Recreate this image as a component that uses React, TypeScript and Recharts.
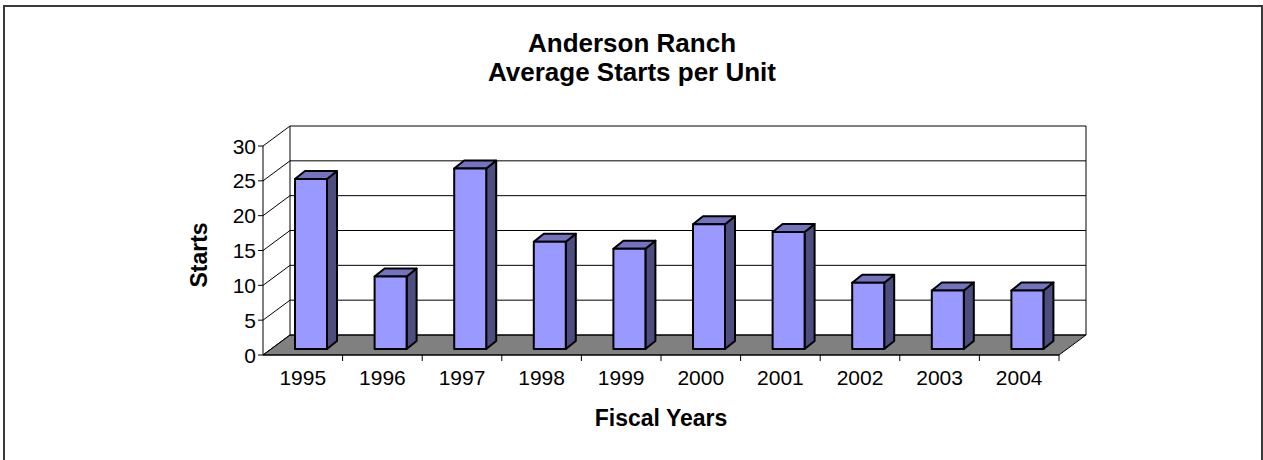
import React from 'react';
import { BarChart, Bar, XAxis, YAxis, CartesianGrid } from 'recharts';

const years = ['1995', '1996', '1997', '1998', '1999', '2000', '2001', '2002', '2003', '2004'];
const starts = [24.4, 10.4, 25.9, 15.4, 14.4, 17.9, 16.8, 9.5, 8.4, 8.4];
const yTicks = [0, 5, 10, 15, 20, 25, 30];

const data = years.map((year, i) => ({ year, starts: starts[i] }));

// layout of the front plane of the 3d box
const W = 1263;
const H = 460;
const PLOT_LEFT = 263;
const PLOT_RIGHT = 1059;
const PLOT_TOP = 146;
const PLOT_BOTTOM = 355;
const YAXIS_W = 60;
const XAXIS_H = 30;
const BAND = (PLOT_RIGHT - PLOT_LEFT) / years.length;

// depth of the box (back wall offset) and of the bars
const DX = 27;
const DY = 20;
const BAR_OFF_X = 8;
const BAR_OFF_Y = 6;
const BAR_DX = 10;
const BAR_DY = 8;

const FONT = '"Liberation Sans", Arial, sans-serif';

// back wall, floor and the slanted lines, drawn per grid line (under the bars)
function WallLine(props: any) {
    const { y1 } = props;
    const y = y1;
    const bx = PLOT_LEFT + DX;
    const by = y - DY;
    const isFloor = Math.abs(y - PLOT_BOTTOM) < 1;
    const isTop = Math.abs(y - PLOT_TOP) < 1;
    return (
        <g>
            {isFloor && (
                <polygon
                    points={`${PLOT_LEFT},${y} ${PLOT_RIGHT},${y} ${PLOT_RIGHT + DX},${by} ${bx},${by}`}
                    fill="#808080"
                    stroke="#000"
                    strokeWidth={1}
                />
            )}
            {isTop && (
                <g>
                    <line x1={bx} y1={by} x2={bx} y2={PLOT_BOTTOM - DY} stroke="#000" />
                    <line x1={PLOT_RIGHT + DX} y1={by} x2={PLOT_RIGHT + DX} y2={PLOT_BOTTOM - DY} stroke="#000" />
                </g>
            )}
            <line x1={PLOT_LEFT} y1={y} x2={bx} y2={by} stroke="#000" />
            <line x1={bx} y1={by} x2={PLOT_RIGHT + DX} y2={by} stroke="#000" />
        </g>
    );
}

function YTick(props: any) {
    const { y, payload } = props;
    return (
        <g>
            <line x1={PLOT_LEFT - 5} y1={y} x2={PLOT_LEFT} y2={y} stroke="#000" />
            <text
                x={PLOT_LEFT - 7}
                y={y}
                dy="0.36em"
                textAnchor="end"
                fontFamily={FONT}
                fontSize={21}
                fill="#000"
            >
                {payload.value}
            </text>
        </g>
    );
}

function XTick(props: any) {
    const { x, payload } = props;
    return (
        <g>
            <line x1={x + BAND / 2} y1={PLOT_BOTTOM} x2={x + BAND / 2} y2={PLOT_BOTTOM + 6} stroke="#000" />
            <text
                x={x}
                y={377}
                dy="0.36em"
                textAnchor="middle"
                fontFamily={FONT}
                fontSize={21}
                fill="#000"
            >
                {payload.value}
            </text>
        </g>
    );
}

function Bar3D(props: any) {
    const { x, y, width, height } = props;
    if (!height || height <= 0) return null;
    const fx = x + BAR_OFF_X;
    const fy = y - BAR_OFF_Y;
    const w = width;
    const h = height;
    return (
        <g stroke="#000" strokeWidth={2} strokeLinejoin="round">
            <polygon
                points={`${fx + w},${fy} ${fx + w + BAR_DX},${fy - BAR_DY} ${fx + w + BAR_DX},${fy + h - BAR_DY} ${fx + w},${fy + h}`}
                fill="#4D4D80"
            />
            <polygon
                points={`${fx},${fy} ${fx + w},${fy} ${fx + w + BAR_DX},${fy - BAR_DY} ${fx + BAR_DX},${fy - BAR_DY}`}
                fill="#7373BF"
            />
            <rect x={fx} y={fy} width={w} height={h} fill="#9999FF" />
        </g>
    );
}

export default function App() {
    return (
        <div style={{ position: 'relative', width: W, height: H, overflow: 'hidden', background: '#fff' }}>
            <style>{`body{margin:0}`}</style>
            <div
                style={{
                    position: 'absolute',
                    left: 3,
                    top: 5,
                    width: 1260,
                    height: 480,
                    border: '2px solid #3a3a3a',
                    boxSizing: 'border-box',
                }}
            />
            <svg width={W} height={110} style={{ position: 'absolute', left: 0, top: 0 }}>
                <text x={632} y={43} dy="0.36em" textAnchor="middle" fontFamily={FONT} fontWeight="bold" fontSize={26}>
                    Anderson Ranch
                </text>
                <text x={632} y={72} dy="0.36em" textAnchor="middle" fontFamily={FONT} fontWeight="bold" fontSize={26}>
                    Average Starts per Unit
                </text>
            </svg>
            <div style={{ position: 'absolute', left: 0, top: 0 }}>
                <BarChart
                    width={W}
                    height={H}
                    data={data}
                    barSize={32}
                    margin={{
                        top: PLOT_TOP,
                        right: W - PLOT_RIGHT,
                        bottom: H - PLOT_BOTTOM - XAXIS_H,
                        left: PLOT_LEFT - YAXIS_W,
                    }}
                >
                    <CartesianGrid
                        vertical={false}
                        horizontal={(p: any) => <WallLine key={`wall-${p.index}`} {...p} />}
                    />
                    <YAxis
                        width={YAXIS_W}
                        domain={[0, 30]}
                        ticks={yTicks}
                        interval={0}
                        tick={<YTick />}
                        tickLine={false}
                        axisLine={{ stroke: '#000', strokeWidth: 1 }}
                        label={{
                            value: 'Starts',
                            content: () => (
                                <text
                                    x={199}
                                    y={255}
                                    transform="rotate(-90 199 255)"
                                    dy="0.36em"
                                    textAnchor="middle"
                                    fontFamily={FONT}
                                    fontWeight="bold"
                                    fontSize={23}
                                    fill="#000"
                                >
                                    Starts
                                </text>
                            ),
                        }}
                    />
                    <XAxis
                        dataKey="year"
                        height={XAXIS_H}
                        interval={0}
                        tick={<XTick />}
                        tickLine={false}
                        axisLine={{ stroke: '#000', strokeWidth: 1 }}
                        label={{
                            value: 'Fiscal Years',
                            content: () => (
                                <text
                                    x={(PLOT_LEFT + PLOT_RIGHT) / 2}
                                    y={418}
                                    dy="0.36em"
                                    textAnchor="middle"
                                    fontFamily={FONT}
                                    fontWeight="bold"
                                    fontSize={23}
                                    fill="#000"
                                >
                                    Fiscal Years
                                </text>
                            ),
                        }}
                    />
                    <Bar dataKey="starts" shape={<Bar3D />} isAnimationActive={false} />
                </BarChart>
            </div>
        </div>
    );
}
